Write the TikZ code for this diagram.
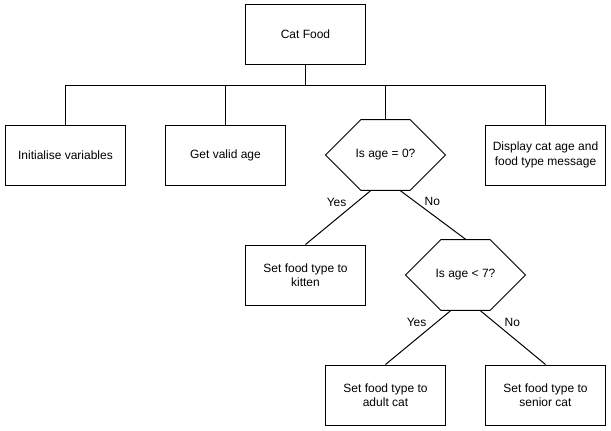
\documentclass[tikz,border=0pt]{standalone}
\usepackage{fontspec}
\setmainfont{Liberation Sans}
\usetikzlibrary{shapes.misc,calc}

\tikzset{
  box/.style={draw, line width=1pt, minimum width=120pt, minimum height=60pt, inner sep=2pt, align=center, font=\fontsize{12}{14.5}\selectfont},
  decision/.style={chamfered rectangle, chamfered rectangle xsep=20pt, chamfered rectangle ysep=30pt, draw, line width=1pt, minimum width=120pt, minimum height=60pt, inner sep=0pt, font=\fontsize{12}{14.5}\selectfont},
  lbl/.style={inner sep=3pt, font=\fontsize{12}{14.5}\selectfont},
  link/.style={line width=1pt}
}

\begin{document}
\begin{tikzpicture}[x=1pt,y=-1pt]
    \useasboundingbox (0,0) rectangle (611,431);

    % Cat Food
    \node[box] (food) at (305.5,34.5) {Cat Food};
    \coordinate (bar) at (305.5,85);

    % Top row
    \node[box] (init) at (65.5,155) {Initialise variables};
    \node[box] (age) at (225.5,155) {Get valid age};
    \node[decision] (zero) at (385.5,155) {Is age = 0?};
    \node[box] (show) at (545.5,155) {Display cat age and\\food type message};

    \draw[link] (food) -- (bar);
    \draw[link] (bar) -| (init);
    \draw[link] (bar) -| (age);
    \draw[link] (bar) -| (zero);
    \draw[link] (bar) -| (show);

    % Second level
    \node[box] (kitten) at (305.5,275) {Set food type to\\kitten};
    \node[decision] (seven) at (465.5,275) {Is age {\char`<} 7?};

    \draw[link] ($(zero.south)+(-15,0)$) -- node[lbl, pos=0.21, left=7pt] (yes1) {Yes} (kitten.north);
    \draw[link] ($(zero.south)+(15,0)$) -- node[lbl, pos=0.21, right=7pt] (no1) {No} (seven.north);

    % Third level
    \node[box] (adult) at (385.5,395) {Set food type to\\adult cat};
    \node[box] (senior) at (545.5,395) {Set food type to\\senior cat};

    \draw[link] ($(seven.south)+(-15,0)$) -- node[lbl, pos=0.21, left=7pt] (yes2) {Yes} (adult.north);
    \draw[link] ($(seven.south)+(15,0)$) -- node[lbl, pos=0.21, right=7pt] (no2) {No} (senior.north);

\end{tikzpicture}
\end{document}
